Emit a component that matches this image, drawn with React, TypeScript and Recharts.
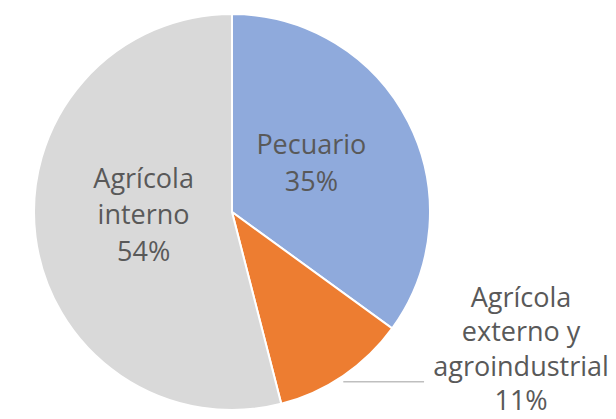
import { PieChart, Pie, Cell } from 'recharts';

const categories = ['Pecuario', 'Agrícola externo y agroindustrial', 'Agrícola interno'];
const shares = [35, 11, 54];
const labelLines = [['Pecuario'], ['Agrícola', 'externo y', 'agroindustrial'], ['Agrícola', 'interno']];
const colors = ['#8FAADC', '#ED7D31', '#D9D9D9'];

const data = categories.map((name, i) => ({ name, value: shares[i] }));

const RAD = Math.PI / 180;
const textColor = '#595959';
const font = '"Open Sans", "Noto Sans", sans-serif';
const fontSize = 27;
const lineGap = 36.5;

// eslint-disable-next-line @typescript-eslint/no-explicit-any
const renderLabel = (props: any) => {
  const { cx, cy, midAngle, outerRadius, index } = props;
  const lines = [...labelLines[index], `${shares[index]}%`];
  const cos = Math.cos(-midAngle * RAD);
  const sin = Math.sin(-midAngle * RAD);

  if (index === 1) {
    // outside label with leader line
    const sx = cx + outerRadius * cos;
    const sy = cy + outerRadius * sin + 6;
    const ex = cx + outerRadius * 0.97;
    const tx = cx + outerRadius * 1.46;
    const gap = 34.5;
    return (
      <g>
        <path d={`M${sx},${sy}L${ex},${sy}`} stroke="#BFBFBF" strokeWidth={1.5} fill="none" />
        <text x={tx} y={sy - 86} textAnchor="middle" fill={textColor} fontSize={fontSize} fontFamily={font} dominantBaseline="central">
          {lines.map((l, i) => (
            <tspan key={i} x={tx} dy={i === 0 ? 0 : gap}>{l}</tspan>
          ))}
        </text>
      </g>
    );
  }

  const r = outerRadius * 0.45;
  const x = cx + r * cos;
  const y = cy + r * sin - outerRadius * 0.05;
  const startY = y - ((lines.length - 1) * lineGap) / 2;
  return (
    <text x={x} y={startY} textAnchor="middle" fill={textColor} fontSize={fontSize} fontFamily={font} dominantBaseline="central">
      {lines.map((l, i) => (
        <tspan key={i} x={x} dy={i === 0 ? 0 : lineGap}>{l}</tspan>
      ))}
    </text>
  );
};

export default function App() {
  return (
    <div style={{ position: 'absolute', left: 0, top: 0, width: 616, height: 419, background: '#fff' }}>
      <PieChart width={616} height={419}>
        <Pie
          data={data}
          dataKey="value"
          nameKey="name"
          cx={227}
          cy={207}
          outerRadius={198}
          startAngle={90}
          endAngle={-270}
          stroke="#fff"
          strokeWidth={2}
          label={renderLabel}
          labelLine={false}
          isAnimationActive={false}
        >
          {data.map((d, i) => (
            <Cell key={d.name} fill={colors[i]} />
          ))}
        </Pie>
      </PieChart>
    </div>
  );
}
